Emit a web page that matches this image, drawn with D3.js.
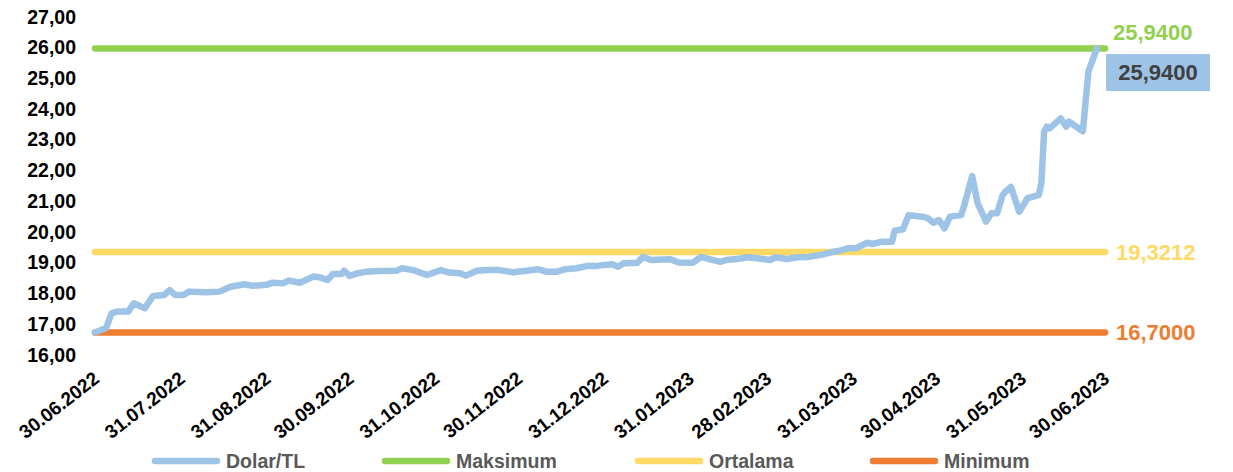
<!DOCTYPE html>
<html>
<head>
<meta charset="utf-8">
<script src="https://cdn.jsdelivr.net/npm/d3@7"></script>
<style>
  html, body { margin: 0; padding: 0; background: #fff; }
  svg { display: block; font-family: "Liberation Sans", Arial, sans-serif; font-weight: bold; }
</style>
</head>
<body>
<svg id="chart" width="1233" height="472"></svg>
<script>
// Daily USD/TRY closing rates, 30.06.2022 – 30.06.2023
const dates = [
  "2022-06-30","2022-07-04","2022-07-06","2022-07-08","2022-07-12","2022-07-14","2022-07-18","2022-07-21",
  "2022-07-25","2022-07-27","2022-07-29","2022-08-01","2022-08-03","2022-08-09","2022-08-14","2022-08-18",
  "2022-08-23","2022-08-26","2022-08-31","2022-09-02","2022-09-06","2022-09-08","2022-09-12","2022-09-17",
  "2022-09-19","2022-09-22","2022-09-24","2022-09-27","2022-09-28","2022-09-30","2022-10-03","2022-10-06",
  "2022-10-11","2022-10-17","2022-10-19","2022-10-23","2022-10-28","2022-11-02","2022-11-05","2022-11-09",
  "2022-11-11","2022-11-15","2022-11-19","2022-11-23","2022-11-28","2022-12-03","2022-12-07","2022-12-10",
  "2022-12-14","2022-12-17","2022-12-21","2022-12-25","2022-12-28","2022-12-31","2023-01-03","2023-01-05",
  "2023-01-07","2023-01-12","2023-01-14","2023-01-17","2023-01-24","2023-01-27","2023-02-01","2023-02-04",
  "2023-02-07","2023-02-11","2023-02-13","2023-02-17","2023-02-21","2023-02-25","2023-03-01","2023-03-03",
  "2023-03-07","2023-03-11","2023-03-15","2023-03-19","2023-03-23","2023-03-26","2023-03-29","2023-04-01",
  "2023-04-05","2023-04-07","2023-04-10","2023-04-14","2023-04-15","2023-04-18","2023-04-20","2023-04-25",
  "2023-04-27","2023-04-29","2023-05-01","2023-05-03","2023-05-05","2023-05-09","2023-05-10","2023-05-13",
  "2023-05-15","2023-05-18","2023-05-20","2023-05-22","2023-05-24","2023-05-25","2023-05-27","2023-05-30",
  "2023-06-02","2023-06-06","2023-06-07","2023-06-08","2023-06-09","2023-06-10","2023-06-14","2023-06-16",
  "2023-06-17","2023-06-22","2023-06-24","2023-06-26","2023-06-27"
];
const dolarTL = [
  16.70,16.85,17.32,17.38,17.38,17.65,17.49,17.89,
  17.92,18.08,17.92,17.92,18.03,18.01,18.03,18.19,
  18.27,18.22,18.25,18.32,18.30,18.39,18.32,18.52,
  18.50,18.41,18.60,18.60,18.71,18.54,18.63,18.68,
  18.70,18.71,18.79,18.73,18.57,18.73,18.65,18.63,
  18.55,18.71,18.73,18.73,18.66,18.71,18.76,18.68,
  18.68,18.76,18.79,18.87,18.86,18.90,18.92,18.84,
  18.95,18.97,19.16,19.06,19.08,18.98,18.97,19.16,
  19.09,19.00,19.06,19.09,19.15,19.11,19.06,19.15,
  19.09,19.15,19.16,19.22,19.31,19.36,19.44,19.44,
  19.62,19.58,19.65,19.65,20.01,20.06,20.52,20.47,
  20.42,20.27,20.36,20.09,20.47,20.52,20.79,21.79,
  20.90,20.31,20.58,20.58,21.17,21.28,21.44,20.63,
  21.07,21.17,21.55,23.23,23.40,23.34,23.67,23.40,
  23.56,23.25,25.19,25.68,25.94
];

// Summary levels
const maksimum = 25.94;
const ortalama = 19.3212;
const minimum = 16.70;

const yTicks = [16,17,18,19,20,21,22,23,24,25,26,27];
const xTickLabels = ["30.06.2022","31.07.2022","31.08.2022","30.09.2022","31.10.2022","30.11.2022",
  "31.12.2022","31.01.2023","28.02.2023","31.03.2023","30.04.2023","31.05.2023","30.06.2023"];

const seriesNames = ["Dolar/TL","Maksimum","Ortalama","Minimum"];
const seriesColors = ["#9DC3E6","#92D050","#FFD966","#ED7D31"];

const parseISO = d3.utcParse("%Y-%m-%d");
const parseTR = d3.utcParse("%d.%m.%Y");
const points = dates.map((d, i) => ({ date: parseISO(d), value: dolarTL[i] }));
const tickDates = xTickLabels.map(parseTR);
const startDate = tickDates[0], endDate = tickDates[tickDates.length - 1];

const svg = d3.select("#chart");
const fmt = (v, n) => v.toFixed(n).replace(".", ",");

const x = d3.scaleUtc().domain([startDate, endDate]).range([95, 1105]);
const y = d3.scaleLinear().domain([16, 27]).range([354, 16]);

// Y axis (labels only)
const yAxis = svg.append("g")
  .attr("transform", "translate(76,0)")
  .call(d3.axisLeft(y).tickValues(yTicks).tickSize(0).tickPadding(0).tickFormat(v => fmt(v, 2)));
yAxis.select(".domain").remove();
yAxis.selectAll("text")
  .attr("fill", "#000").attr("font-size", "19.5px").attr("font-weight", "bold")
  .attr("font-family", "'Liberation Sans', Arial, sans-serif")
  .attr("dy", "0.36em");

// X axis labels, rotated
const xAxis = svg.append("g")
  .attr("transform", "translate(0,381)")
  .call(d3.axisBottom(x).tickValues(tickDates).tickSize(0).tickPadding(0)
    .tickFormat((d, i) => xTickLabels[i]));
xAxis.select(".domain").remove();
xAxis.selectAll("text")
  .attr("fill", "#000").attr("font-size", "19px").attr("font-weight", "bold")
  .attr("font-family", "'Liberation Sans', Arial, sans-serif")
  .attr("text-anchor", "end")
  .attr("dy", 0)
  .attr("y", 0)
  .attr("transform", "translate(5,0) rotate(-38)");

// Horizontal summary lines
const levels = [
  { value: minimum, color: seriesColors[3] },
  { value: ortalama, color: seriesColors[2] },
  { value: maksimum, color: seriesColors[1] }
];
svg.append("g").selectAll("line").data(levels).join("line")
  .attr("x1", x(startDate)).attr("x2", x(endDate))
  .attr("y1", d => y(d.value)).attr("y2", d => y(d.value))
  .attr("stroke", d => d.color).attr("stroke-width", 6.5).attr("stroke-linecap", "round");

// Dolar/TL series
const line = d3.line().x(d => x(d.date)).y(d => y(d.value));
svg.append("path").datum(points)
  .attr("d", line)
  .attr("fill", "none")
  .attr("stroke", seriesColors[0])
  .attr("stroke-width", 6.5)
  .attr("stroke-linejoin", "round")
  .attr("stroke-linecap", "round");

// Value labels at the right end
const labelX = x(endDate) + 11;
svg.append("text").attr("x", labelX - 3).attr("y", y(maksimum) - 16).attr("dy", "0.36em")
  .attr("font-size", "22px").attr("fill", seriesColors[1]).text(fmt(maksimum, 4));
svg.append("text").attr("x", labelX).attr("y", y(ortalama)).attr("dy", "0.36em")
  .attr("font-size", "22px").attr("fill", seriesColors[2]).text(fmt(ortalama, 4));
svg.append("text").attr("x", labelX).attr("y", y(minimum)).attr("dy", "0.36em")
  .attr("font-size", "22px").attr("fill", seriesColors[3]).text(fmt(minimum, 4));

// Last value callout
const last = points[points.length - 1];
const boxY = y(last.value) + 24;
svg.append("rect")
  .attr("x", x(endDate) + 1).attr("y", boxY - 18.5)
  .attr("width", 104).attr("height", 37)
  .attr("fill", seriesColors[0]);
svg.append("text")
  .attr("x", x(endDate) + 53).attr("y", boxY).attr("dy", "0.36em")
  .attr("text-anchor", "middle").attr("font-size", "22px").attr("fill", "#404040")
  .text(fmt(last.value, 4));

// Legend
const legendX = [152, 382, 635, 870];
const legend = svg.append("g").attr("transform", "translate(0,461)");
const items = legend.selectAll("g").data(seriesNames).join("g")
  .attr("transform", (d, i) => `translate(${legendX[i]},0)`);
items.append("line")
  .attr("x1", 3).attr("x2", 65).attr("y1", 0).attr("y2", 0)
  .attr("stroke", (d, i) => seriesColors[i]).attr("stroke-width", 6.5).attr("stroke-linecap", "round");
items.append("text")
  .attr("x", 74).attr("y", 0).attr("dy", "0.36em")
  .attr("font-size", "19.5px").attr("fill", "#595959")
  .text(d => d);
</script>
</body>
</html>
